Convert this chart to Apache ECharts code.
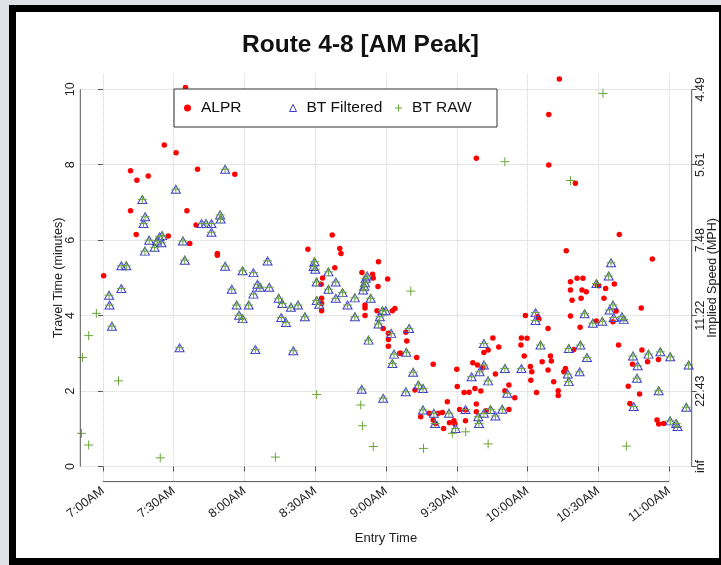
<!DOCTYPE html>
<html><head><meta charset="utf-8">
<script src="https://cdn.jsdelivr.net/npm/echarts@6/dist/echarts.min.js"></script>
<style>
html,body{margin:0;padding:0;background:#dfe3e7;overflow:hidden;}
#frame{position:absolute;left:9px;top:5px;width:712px;height:560px;background:#000;}
#paper{position:absolute;left:16px;top:12px;width:703px;height:546px;background:#fff;}
#chart{position:absolute;left:0;top:0;width:721px;height:565px;}
</style></head>
<body><div id="frame"></div><div id="paper"></div><div id="chart"></div>
<script>
// x = minutes after 7:00AM, y = travel time (minutes)
const xTickMinutes = [0, 30, 60, 90, 120, 150, 180, 210, 240];
const xTickLabels = ['7:00AM','7:30AM','8:00AM','8:30AM','9:00AM','9:30AM','10:00AM','10:30AM','11:00AM'];
const yTicks = [0, 2, 4, 6, 8, 10];
const speedLabels = ['inf', '22.43', '11.22', '7.48', '5.61', '4.49'];

const alpr = [
 [35.0,10.05],[26.0,8.52],[31.0,8.32],[11.7,7.84],[14.4,7.59],[19.2,7.70],[40.1,7.88],[55.9,7.75],
 [11.7,6.78],[35.6,6.78],[14.1,6.15],[27.7,6.11],[39.5,6.40],[36.8,5.91],[48.5,5.65],[48.5,5.60],[0.3,5.06],
 [97.2,6.14],[86.9,5.76],[100.4,5.78],[100.9,5.65],[98.3,5.27],[93.1,5.00],[92.5,4.83],[92.7,4.46],
 [92.7,4.32],[92.7,4.13],[116.8,5.43],[109.8,5.14],[114.3,5.10],[114.6,5.00],[120.7,4.97],[116.6,4.77],
 [111.1,4.28],[111.1,4.20],[111.1,4.00],[116.2,4.13],[122.7,4.13],[123.8,4.19],[121.0,3.53],[121.0,3.37],
 [121.0,3.19],[125.8,3.00],[118.8,3.66],
 [193.5,10.27],[189.0,9.33],[158.3,8.17],[189.0,7.99],[179.1,4.00],[188.7,3.66],[184.1,3.97],[128.4,3.56],
 [128.8,3.33],[126.2,3.00],[133.0,2.89],[140.0,2.71],[165.3,3.41],[167.8,3.17],[161.5,3.02],[163.3,3.09],
 [156.8,2.75],[158.8,2.69],[161.1,2.62],[150.0,2.58],[166.4,2.45],[150.2,2.12],[153.1,1.96],[155.2,1.97],
 [157.7,2.07],[160.2,2.00],[172.1,2.16],[174.6,1.82],[170.4,2.01],[132.3,2.03],[146.0,1.72],[158.3,1.66],
 [151.2,1.51],[153.7,1.50],[158.3,1.45],[162.5,1.48],[172.1,1.51],[134.7,1.32],[138.4,1.41],[142.2,1.41],
 [143.9,1.43],[140.0,1.23],[141.0,1.14],[144.4,1.01],[146.9,1.16],[148.8,1.21],[149.2,1.13],[153.7,1.21],
 [177.4,3.41],[179.8,3.40],[177.2,3.22],[178.6,2.93],[181.2,2.65],[181.8,2.51],[181.4,2.29],[183.8,1.96],
 [186.2,2.78],[189.7,2.93],[190.1,2.80],[188.7,2.56],[191.1,2.25],[193.0,2.01],[193.0,1.88],[184.8,3.91],
 [200.3,7.51],[196.4,5.72],[218.9,6.15],[232.9,5.50],[198.2,4.90],[198.2,4.68],[198.9,4.41],[198.2,3.99],
 [201.0,4.99],[203.5,4.99],[203.1,4.68],[204.9,4.63],[202.7,4.46],[209.5,4.81],[210.2,4.79],[213.1,4.72],
 [216.8,4.84],[212.4,4.46],[217.6,4.12],[228.2,4.20],[202.3,3.69],[199.6,3.10],[209.2,3.86],[216.2,3.84],
 [218.6,3.22],[228.5,3.09],[230.9,2.78],[235.5,2.84],[196.1,2.60],[195.4,2.51],[224.5,2.71],[222.7,2.13],
 [223.4,1.67],[227.5,1.92],[234.9,1.23],[235.6,1.13],[237.7,1.14]
];

const btFiltered = [
 [51.8,7.88],[30.9,7.35],[16.7,7.08],[17.9,6.62],[17.2,6.44],[49.7,6.67],[49.9,6.56],[41.8,6.44],[43.7,6.44],
 [46.0,6.44],[46.0,6.21],[19.6,6.00],[22.9,5.98],[24.0,6.09],[25.1,6.12],[24.8,5.93],[21.9,5.81],[17.8,5.71],
 [33.9,5.98],[34.7,5.47],[7.8,5.32],[9.9,5.32],[7.8,4.72],[2.6,4.54],[2.8,4.28],[3.8,3.72],[32.5,3.15],
 [51.8,5.31],[54.6,4.70],[56.7,4.28],[57.7,4.01],[59.2,3.92],[59.2,5.19],
 [63.8,5.14],[69.8,5.45],[65.5,4.83],[66.6,4.75],[70.5,4.75],[63.8,4.57],[61.8,4.28],[74.5,4.46],[76.0,4.32],
 [79.7,4.22],[82.7,4.28],[75.6,3.95],[77.6,3.82],[85.6,3.97],[64.6,3.10],[80.7,3.07],[89.7,5.43],[89.3,5.30],
 [90.0,5.23],[95.6,5.16],[90.6,4.89],[98.7,4.89],[95.6,4.70],[101.6,4.61],[98.7,4.46],[90.6,4.40],[91.7,4.30],
 [106.8,4.47],[103.7,4.28],[106.8,3.97],[111.4,4.99],[111.1,4.87],[110.3,4.68],[112.0,5.05],[110.8,4.78],
 [113.5,4.46],[118.5,4.13],[119.9,4.13],[117.4,3.97],[116.8,3.78],[122.2,3.53],[112.6,3.35],[123.4,2.98],
 [122.7,2.73],[109.7,2.05],[118.8,1.81],
 [129.8,3.66],[128.6,3.03],[131.5,2.50],[128.4,1.98],[133.7,2.16],[135.7,2.07],[135.7,1.50],[140.3,1.41],
 [140.8,1.14],[146.7,1.41],[149.5,1.01],[153.7,1.51],[156.3,2.38],[159.7,2.51],[161.5,2.69],[161.5,3.26],
 [163.3,2.27],[159.1,1.32],[159.4,1.14],[161.5,1.41],[164.3,1.51],[166.4,1.34],[169.3,1.52],[170.4,2.60],
 [171.4,1.94],[177.4,2.60],[183.4,4.08],[183.4,3.87],[185.5,3.22],
 [215.4,5.40],[214.4,5.05],[209.2,4.85],[204.2,4.05],[207.7,3.80],[211.7,3.85],[214.8,4.15],[216.2,4.28],
 [216.5,3.95],[220.0,3.97],[220.8,3.90],[202.4,3.22],[197.5,3.13],[205.2,2.89],[202.1,2.51],[197.1,2.45],
 [197.5,2.25],[224.7,2.93],[226.7,2.67],[226.4,2.34],[231.3,2.98],[236.3,3.04],[240.5,2.91],[235.6,2.01],
 [225.0,1.59],[247.3,1.57],[240.5,1.21],[243.0,1.14],[243.6,1.06],[248.3,2.69]
];

// raw Bluetooth readings that were removed by the filter
const btRawOnly = [
 [-8.7,2.89],[-6.05,3.47],[-2.8,4.06],[6.6,2.27],[-9.1,0.88],[-6.05,0.57],[24.3,0.23],[90.6,1.91],
 [109.3,1.63],[110.0,1.08],[114.6,0.53],[73.1,0.25],[130.5,4.65],[135.9,0.48],[148.1,0.88],[153.8,0.92],
 [163.3,0.60],[170.4,8.08],[212.0,9.89],[198.2,7.58],[221.9,0.54]
];
const btRaw = btFiltered.concat(btRawOnly);

const FONT = '"Liberation Sans", Arial, Helvetica, sans-serif';
const AXIS_COLOR = '#555';
const TEXT_COLOR = '#222';
const X_MIN = -9.6, X_MAX = 249.6, Y_MIN = -0.4, Y_MAX = 10.4;

const chart = echarts.init(document.getElementById('chart'), null, {renderer: 'canvas'});
const gridLine = {show: true, lineStyle: {color: '#cfcfcf', type: 'dotted', width: 1}};

chart.setOption({
  animation: false,
  backgroundColor: 'transparent',
  title: {
    text: 'Route 4-8 [AM Peak]', left: 'center', top: 33, padding: [0, 0, 0, 51],
    textStyle: {fontSize: 24.5, fontWeight: 'bold', color: '#111', fontFamily: FONT}
  },
  legend: {
    left: 174, top: 89, orient: 'horizontal', selectedMode: false,
    padding: [10, 3, 10, 10], itemWidth: 7, itemHeight: 7, itemGap: 6,
    borderColor: '#333', borderWidth: 1, backgroundColor: '#fff',
    textStyle: {fontSize: 15.5, color: '#111', fontFamily: FONT, width: 82, padding: [0, 0, 0, 5], lineHeight: 18},
    data: [
      {name: 'ALPR', itemStyle: {borderWidth: 0}},
      {name: 'BT Filtered', itemStyle: {borderWidth: 1}},
      {name: 'BT RAW', itemStyle: {borderWidth: 1}}
    ]
  },
  grid: {left: 80.3, right: 29.3, top: 74.2, bottom: 83.4, containLabel: false, outerBoundsMode: 'none'},
  xAxis: {
    type: 'value', min: X_MIN, max: X_MAX,
    axisLine: {show: false},
    axisTick: {show: true, customValues: xTickMinutes, length: 5, lineStyle: {color: AXIS_COLOR}},
    axisLabel: {
      customValues: xTickMinutes, rotate: 37, margin: 8, fontSize: 12.5, color: TEXT_COLOR, fontFamily: FONT,
      formatter: v => xTickLabels[xTickMinutes.indexOf(v)]
    },
    splitLine: gridLine,
    name: 'Entry Time', nameLocation: 'middle', nameGap: 50, nameMoveOverlap: false,
    nameTextStyle: {fontSize: 13, color: TEXT_COLOR, fontFamily: FONT}
  },
  yAxis: [{
    type: 'value', min: Y_MIN, max: Y_MAX, position: 'left',
    axisLine: {show: false},
    axisTick: {show: true, customValues: yTicks, length: 5, lineStyle: {color: AXIS_COLOR}},
    axisLabel: {customValues: yTicks, rotate: 90, margin: 3, fontSize: 12.5, color: TEXT_COLOR, fontFamily: FONT,
      formatter: v => String(v)},
    splitLine: gridLine,
    name: 'Travel Time (minutes)', nameLocation: 'middle', nameGap: 15, nameRotate: 90, nameMoveOverlap: false,
    nameTextStyle: {fontSize: 12.5, color: TEXT_COLOR, fontFamily: FONT}
  }, {
    type: 'value', min: Y_MIN, max: Y_MAX, position: 'right',
    axisLine: {show: false},
    axisTick: {show: true, customValues: yTicks, length: 5, lineStyle: {color: AXIS_COLOR}},
    axisLabel: {customValues: yTicks, rotate: 90, margin: 2, fontSize: 12.5, color: TEXT_COLOR, fontFamily: FONT,
      formatter: v => speedLabels[yTicks.indexOf(v)]},
    splitLine: {show: false},
    name: 'Implied Speed (MPH)', nameLocation: 'middle', nameGap: 14.5, nameRotate: 90, nameMoveOverlap: false,
    nameTextStyle: {fontSize: 12.5, color: TEXT_COLOR, fontFamily: FONT}
  }],
  series: [{
    name: 'ALPR', type: 'scatter', data: alpr, symbol: 'circle', symbolSize: 5.5,
    itemStyle: {color: '#ff0000', opacity: 1}, emphasis: {disabled: true}
  }, {
    name: 'BT Filtered', type: 'scatter', data: btFiltered, symbol: 'triangle', symbolSize: [9, 8],
    itemStyle: {color: 'rgba(0,0,0,0)', borderColor: '#3d3dcc', borderWidth: 1, opacity: 1}, emphasis: {disabled: true}
  }, {
    name: 'BT RAW', type: 'scatter', data: btRaw, symbol: 'path://M0,5L10,5M5,0L5,10', symbolSize: 9,
    itemStyle: {color: 'rgba(0,0,0,0)', borderColor: '#6aa63a', borderWidth: 1, opacity: 1}, emphasis: {disabled: true}
  }]
});

// R-style axis lines that span only the tick range
const px = p => chart.convertToPixel({xAxisIndex: 0, yAxisIndex: 0}, p);
const y0 = yTicks[0], y1 = yTicks[yTicks.length - 1];
const x0 = xTickMinutes[0], x1 = xTickMinutes[xTickMinutes.length - 1];
const lA = px([X_MIN, y0]), lB = px([X_MIN, y1]);
const rA = px([X_MAX, y0]), rB = px([X_MAX, y1]);
const bA = px([x0, Y_MIN]), bB = px([x1, Y_MIN]);
const seg = (a, b) => ({type: 'line', silent: true, z: 5,
  shape: {x1: a[0], y1: a[1], x2: b[0], y2: b[1]}, style: {stroke: AXIS_COLOR, lineWidth: 1}});
chart.setOption({graphic: [seg(lA, lB), seg(rA, rB), seg(bA, bB)]});
</script></body></html>
